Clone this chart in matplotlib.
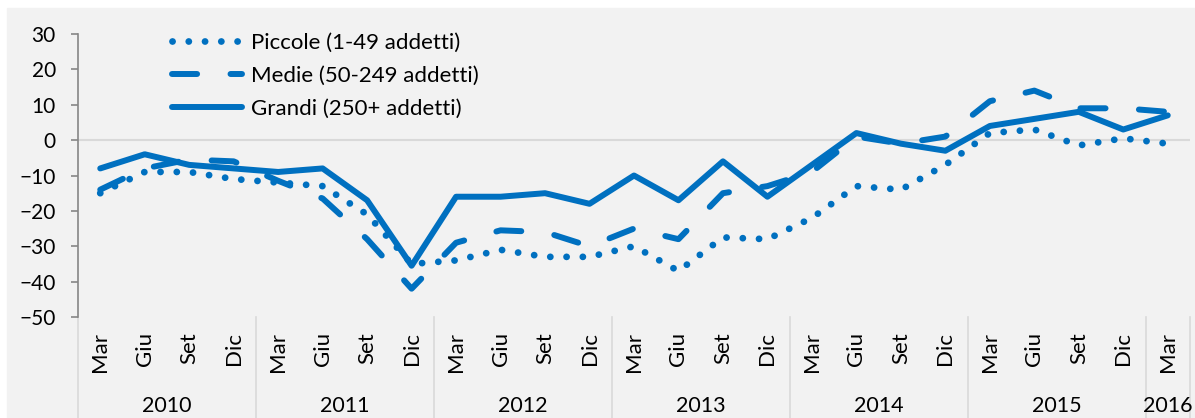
import matplotlib
matplotlib.use("Agg")
import matplotlib.pyplot as plt
from matplotlib.patches import Rectangle
import matplotlib.transforms as mtransforms

plt.rcParams['font.family'] = ['Lato', 'DejaVu Sans']

# quarters 2010 Mar .. 2016 Mar
months = ["Mar", "Giu", "Set", "Dic"] * 6 + ["Mar"]
years = ["2010", "2011", "2012", "2013", "2014", "2015", "2016"]
year_len = [4, 4, 4, 4, 4, 4, 1]

piccole = [-15, -9, -9, -11, -12, -13, -21, -35, -34, -31, -33, -33,
           -30, -37, -27.5, -28, -22, -13, -14, -7, 2, 3, -1.5, 0.5, -1]
medie = [-14, -8, -5.5, -6, -11.5, -16.5, -28, -42, -29, -25.5, -26, -30,
         -25, -28, -15, -13, -9, 1, -1, 1, 11, 14, 9, 9, 8]
grandi = [-8, -4, -7, -8, -9, -8, -17, -35.5, -16, -16, -15, -18,
          -10, -17, -6, -16, -7, 2, -1, -3, 4, 6, 8, 3, 7]

labels = ["Piccole (1-49 addetti)", "Medie (50-249 addetti)", "Grandi (250+ addetti)"]

W, H = 1195, 418
blue = "#0070C0"
grid_c = "#D9D9D9"
axis_c = "#868686"

fig = plt.figure(figsize=(W / 100, H / 100), dpi=100, facecolor="white")
fig.patches.append(Rectangle((7 / W, 0), 1, 1 - 8 / H, transform=fig.transFigure,
                             color="#F2F2F2", zorder=-10))

ax = fig.add_axes([78 / W, 1 - 317 / H, (1190 - 78) / W, (317 - 34) / H])
ax.set_facecolor("none")

x = list(range(len(months)))
ax.axhline(0, color=grid_c, lw=1.5, zorder=1)
l1, = ax.plot(x, piccole, color=blue, lw=4.9, ls=(0, (0.01, 2.38)),
              dash_capstyle="round", zorder=3)
l2, = ax.plot(x, medie, color=blue, lw=4.3, ls=(0, (4.2, 5.6)),
              dash_capstyle="round", dash_joinstyle="round", zorder=3)
l3, = ax.plot(x, grandi, color=blue, lw=4.3, solid_capstyle="round",
              solid_joinstyle="round", zorder=3)

ax.set_xlim(-0.5, len(months) - 0.5)
ax.set_ylim(-50, 30)
ax.set_yticks(range(-50, 31, 10))
ax.set_xticks([])
for s in ["top", "right", "bottom"]:
    ax.spines[s].set_visible(False)
ax.spines["left"].set_color(axis_c)
ax.spines["left"].set_linewidth(1.2)
ax.tick_params(axis="y", direction="out", length=5, width=1.2, color=axis_c,
               pad=11, labelsize=15, labelcolor="black")

# category axis: months, years and separators
trans = mtransforms.blended_transform_factory(ax.transData, ax.transAxes)
for i, m in enumerate(months):
    ax.text(i, -0.054, m, rotation=90, ha="center", va="top", fontsize=16,
            transform=trans)
start = 0
bounds = [-0.5]
for yr, n in zip(years, year_len):
    ax.text(start + (n - 1) / 2, -0.3145, yr, ha="center", va="center",
            fontsize=15.5, transform=trans)
    start += n
    bounds.append(start - 0.5)
for b in bounds:
    ax.plot([b, b], [0, -0.36], color=grid_c, lw=1.2, transform=trans,
            clip_on=False, zorder=0)

leg = ax.legend([l1, l2, l3], labels, loc="upper left", frameon=False,
                bbox_to_anchor=(172 / W, 1 - 33 / H),
                bbox_transform=fig.transFigure, fontsize=16,
                handlelength=3.15, handletextpad=0.4, labelspacing=0.58,
                borderpad=0, borderaxespad=0)

fig.savefig("out.png", dpi=100, facecolor=fig.get_facecolor())
